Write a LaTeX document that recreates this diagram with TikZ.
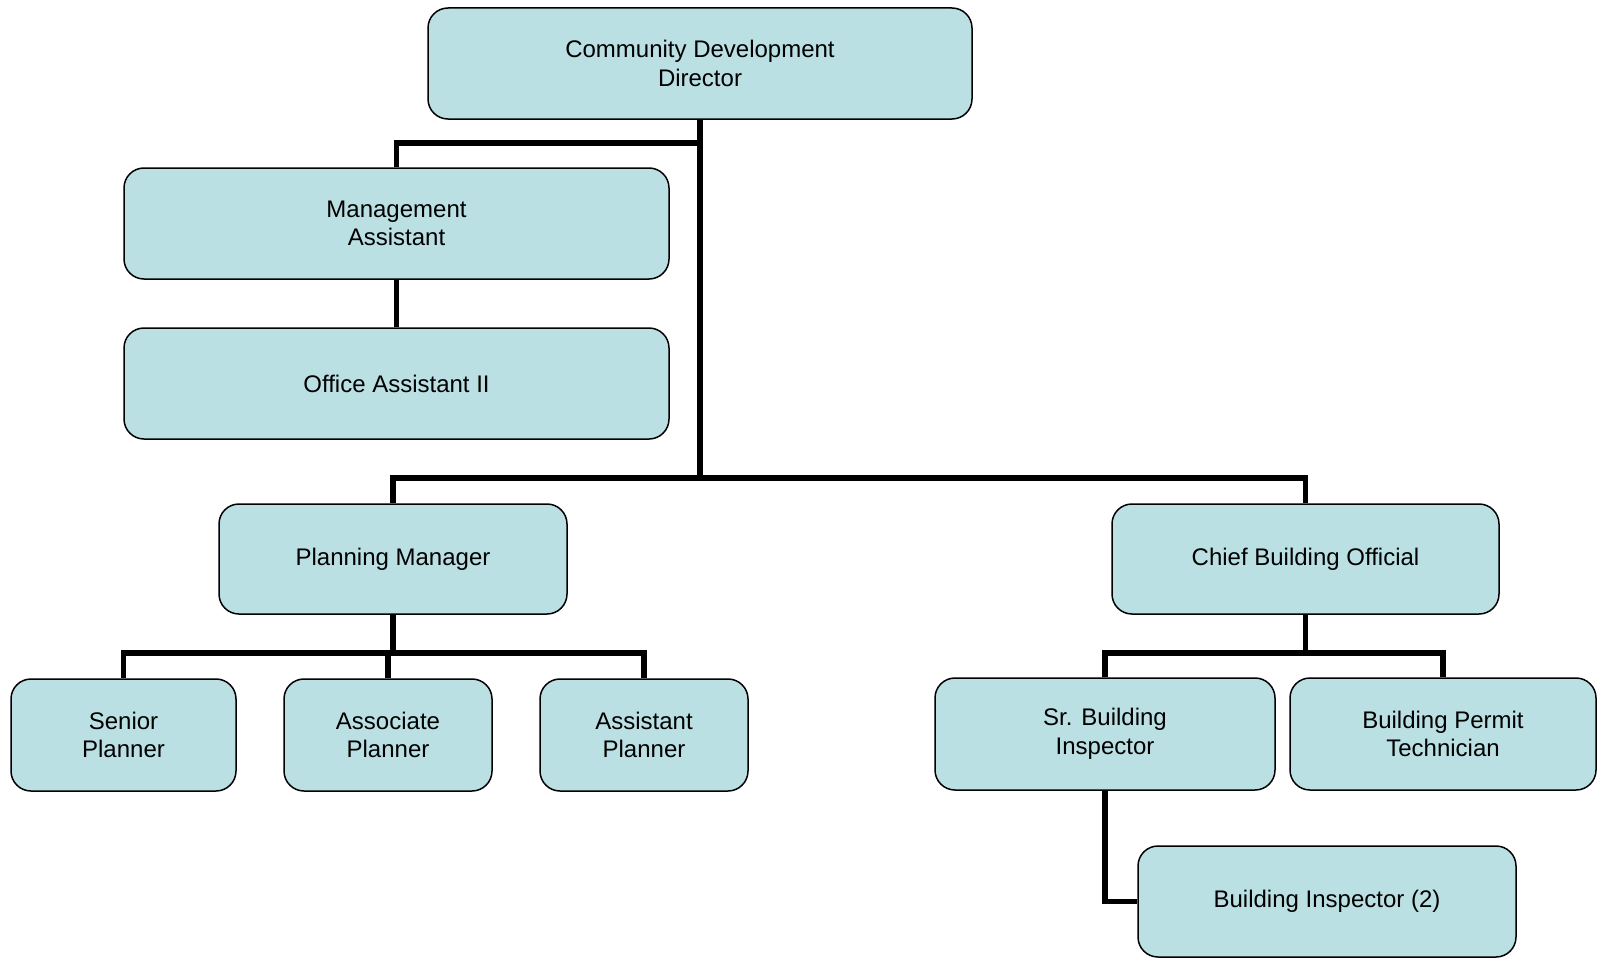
\documentclass[tikz,border=0pt]{standalone}
\usepackage{fontspec}
\setmainfont{Liberation Sans}
\usetikzlibrary{positioning}
\definecolor{boxblue}{RGB}{187,224,227}

\begin{document}
\begin{tikzpicture}[x=1pt,y=-1pt,
  orgbox/.style={draw=black,line width=1.5pt,fill=boxblue,rounded corners=20pt,
    minimum height=111pt,inner sep=0pt,align=center,
    font=\fontsize{24}{28.7}\selectfont},
  link/.style={line width=5.5pt,line join=miter}]
\useasboundingbox (0,0) rectangle (1606,958);
% the boxes
\node[orgbox,minimum width=544pt] (dir) at (700,63.5) {Community Development\\Director};
\node[orgbox,minimum width=545pt] (mgmt) at (396.5,223.5) {Management\\Assistant};
\node[orgbox,minimum width=545pt] (office) at (396.5,383.5) {Office Assistant II};
\node[orgbox,minimum width=348pt,minimum height=110pt] (pm) at (393,559) {Planning Manager};
\node[orgbox,minimum width=387pt,minimum height=110pt] (cbo) at (1305.5,559) {Chief Building Official};
\node[orgbox,minimum width=225pt,minimum height=112pt] (senior) at (123.5,735) {Senior\\Planner};
\node[orgbox,minimum width=208pt,minimum height=112pt] (assoc) at (388,735) {Associate\\Planner};
\node[orgbox,minimum width=208pt,minimum height=112pt] (asst) at (644,735) {Assistant\\Planner};
\node[orgbox,minimum width=340pt,minimum height=112pt] (srbi) at (1105,734) {Sr. Building\\Inspector};
\node[orgbox,minimum width=306pt,minimum height=112pt] (bpt) at (1443,734) {Building Permit\\Technician};
\node[orgbox,minimum width=378pt] (bi) at (1327,901.5) {Building Inspector (2)};
% the junctions
\coordinate (jtop) at (700,143);
\coordinate (jmid) at (700,478);
\coordinate (jpm) at (393,653);
\coordinate (jcbo) at (1305.5,653);
% the connectors
\draw[link] (dir.south) -- (jmid);
\draw[link] (jtop) -| (mgmt.north);
\draw[link] (mgmt.south) -- (office.north);
\draw[link] (jmid) -| (pm.north);
\draw[link] (jmid) -| (cbo.north);
\draw[link] (pm.south) -- (jpm);
\draw[link] (jpm) -| (senior.north);
\draw[link] (jpm) -| (assoc.north);
\draw[link] (jpm) -| (asst.north);
\draw[link] (cbo.south) -- (jcbo);
\draw[link] (jcbo) -| (srbi.north);
\draw[link] (jcbo) -| (bpt.north);
\draw[link] (srbi.south) |- (bi.west);
\end{tikzpicture}
\end{document}
